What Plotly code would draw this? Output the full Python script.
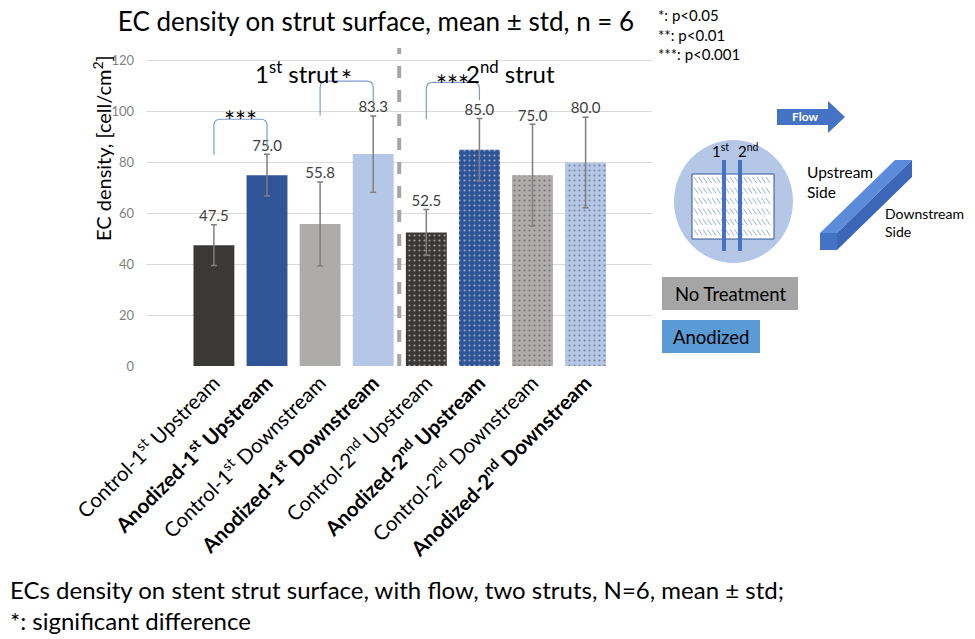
import plotly.graph_objects as go

# data
categories = [
    "Control-1<sup>st</sup> Upstream",
    "<b>Anodized-1<sup>st</sup> Upstream</b>",
    "Control-1<sup>st</sup> Downstream",
    "<b>Anodized-1<sup>st</sup> Downstream</b>",
    "Control-2<sup>nd</sup> Upstream",
    "<b>Anodized-2<sup>nd</sup> Upstream</b>",
    "Control-2<sup>nd</sup> Downstream",
    "<b>Anodized-2<sup>nd</sup> Downstream</b>",
]
means = [47.5, 75.0, 55.8, 83.3, 52.5, 85.0, 75.0, 80.0]
stds = [8.0, 8.2, 16.5, 15.0, 9.0, 12.3, 20.0, 17.8]
bar_colors = ["#3b3838", "#2f5597", "#aeabab", "#b4c7e7"] * 2
bar_patterns = ["", "", "", "", ".", ".", ".", "."]
y_ticks = [0, 20, 40, 60, 80, 100, 120]

# significance brackets (category index pairs)
sig_left = [0, 2, 4]
sig_right = [1, 3, 5]
sig_top = [97.0, 112.0, 111.5]
sig_left_low = [83.0, 98.5, 97.0]
sig_right_low = [86.0, 103.5, 104.5]
sig_text = ["***", "*", "***"]
sig_text_y = [96.5, 112.5, 110.5]

FONT = "Lato, 'Open Sans', sans-serif"

# the page puts the figure 8px in from the top-left corner
OFF = 8
# plot area in page pixels: x 147..652, y 48..366
L, R, T, B = 147 - OFF, 975 - 652 + OFF, 48 - OFF, 639 - 366 + OFF
W = 975 - L - R
H = 639 - T - B


def px(x):
    return (x - OFF - L) / W


def py(y):
    return (639 - B - (y - OFF)) / H


x_pos = list(range(len(categories)))

fig = go.Figure()

fig.add_trace(go.Bar(
    x=x_pos,
    y=means,
    width=0.77,
    marker=dict(
        color=bar_colors,
        line=dict(width=0),
        pattern=dict(shape=bar_patterns, fgcolor="white",
                     size=5, solidity=0.15, fillmode="overlay"),
    ),
    error_y=dict(type="data", array=stds, color="#7f7f7f", thickness=1.5, width=3),
    showlegend=False,
    hoverinfo="skip",
))

# value labels above the error bars
fig.add_trace(go.Scatter(
    x=x_pos,
    y=[m + s for m, s in zip(means, stds)],
    text=[f"{m:.1f}" for m in means],
    mode="text",
    textposition="top center",
    textfont=dict(size=15, color="#404040", family=FONT),
    showlegend=False,
    hoverinfo="skip",
    cliponaxis=False,
))

shapes = []

# divider between struts
shapes.append(dict(type="line", xref="x", yref="y", x0=3.49, x1=3.49, y0=0, y1=125,
                   line=dict(color="#a6a6a6", width=4, dash="dash")))

# brackets
for i, j, top, yl, yr in zip(sig_left, sig_right, sig_top, sig_left_low, sig_right_low):
    r = 2.5
    d = 0.12
    path = (f"M {i},{yl} L {i},{top - r} Q {i},{top} {i + d},{top} "
            f"L {j - d},{top} Q {j},{top} {j},{top - r} L {j},{yr}")
    shapes.append(dict(type="path", xref="x", yref="y", path=path,
                       line=dict(color="#7f9cc9", width=1.2)))


def ppath(points, close=True):
    s = "M " + " L ".join(f"{px(x)},{py(y)}" for x, y in points)
    return s + (" Z" if close else "")


def pshape(points, fill):
    return dict(type="path", xref="paper", yref="paper", path=ppath(points),
                fillcolor=fill, line=dict(width=0))


# stent diagram
shapes.append(dict(type="circle", xref="paper", yref="paper",
                   x0=px(674), x1=px(793), y0=py(263), y1=py(140),
                   fillcolor="#b4c7e7", line=dict(width=0)))
shapes.append(dict(type="rect", xref="paper", yref="paper",
                   x0=px(692), x1=px(774), y0=py(239), y1=py(174),
                   fillcolor="white", line=dict(color="#2f5597", width=1)))
hatch = []
for k in range(6):
    y0 = 177 + k * 10.5
    x = 694
    while x + 4 < 773:
        hatch.append(f"M {px(x)},{py(y0)} L {px(x + 4)},{py(y0 + 6)}")
        x += 4.5
shapes.append(dict(type="path", xref="paper", yref="paper", path=" ".join(hatch),
                   line=dict(color="#8a9cc0", width=0.8)))
for sx in (722, 738):
    shapes.append(dict(type="rect", xref="paper", yref="paper",
                       x0=px(sx), x1=px(sx + 4), y0=py(251), y1=py(160),
                       fillcolor="#4472c4", line=dict(width=0)))

# flow arrow
shapes.append(pshape([(777, 109), (828, 109), (828, 101), (845, 117),
                      (828, 133), (828, 125), (777, 125)], "#4472c4"))

# 3d strut
shapes.append(pshape([(820, 233), (895, 160), (912, 160), (837, 233)], "#5b8bdb"))
shapes.append(pshape([(837, 233), (912, 160), (912, 177), (837, 250)], "#3c67b8"))
shapes.append(pshape([(820, 233), (837, 233), (837, 250), (820, 250)], "#4472c4"))

# treatment boxes
shapes.append(dict(type="rect", xref="paper", yref="paper",
                   x0=px(662), x1=px(798), y0=py(310), y1=py(277),
                   fillcolor="#a5a5a5", line=dict(width=0)))
shapes.append(dict(type="rect", xref="paper", yref="paper",
                   x0=px(662), x1=px(760), y0=py(353), y1=py(320),
                   fillcolor="#5b9bd5", line=dict(width=0)))

annotations = []


def note(text, x, y, size, color="#000000", xanchor="center", yanchor="middle",
         xref="paper", yref="paper", angle=0, align="center"):
    annotations.append(dict(text=text, x=x, y=y, xref=xref, yref=yref,
                            xanchor=xanchor, yanchor=yanchor, showarrow=False,
                            textangle=angle, align=align,
                            font=dict(size=size, color=color, family=FONT)))


for i, j, t, ty in zip(sig_left, sig_right, sig_text, sig_text_y):
    note(t, (i + j) / 2, ty, 26, xref="x", yref="y")

note("1<sup>st</sup> strut", 1.56, 115.6, 24, xref="x", yref="y")
note("2<sup>nd</sup> strut", 5.58, 115.6, 24, xref="x", yref="y")

note("EC density, [cell/cm<sup>2</sup>]", px(102), py(148), 20, angle=-90)

note("*: p<0.05<br>**: p<0.01<br>***: p<0.001", px(656), py(34), 15,
     xanchor="left", align="left")

note("ECs density on stent strut surface, with flow, two struts, N=6, mean ± std;"
     "<br>*: significant difference", px(8), py(605), 24, xanchor="left", align="left")

note("<b>Flow</b>", px(805), py(117), 12, color="white")
note("1<sup>st</sup>", px(720), py(150), 15)
note("2<sup>nd</sup>", px(748), py(150), 15)
note("Upstream<br>Side", px(805), py(182), 15.5, xanchor="left", align="left")
note("Downstream<br>Side", px(883), py(222), 14, xanchor="left", align="left")
note("No Treatment", px(730), py(294), 18.5)
note("Anodized", px(711), py(337), 18.5)

fig.update_layout(
    width=975,
    height=639,
    margin=dict(l=L, r=R, t=T, b=B, autoexpand=False),
    paper_bgcolor="white",
    plot_bgcolor="white",
    font=dict(family=FONT, color="#000000"),
    title=dict(text="EC density on strut surface, mean ± std, n = 6",
               x=(376 - OFF) / 975, xanchor="center", y=1 - (22 - OFF) / 639,
               yanchor="middle",
               font=dict(size=26, family=FONT, color="#000000")),
    shapes=shapes,
    annotations=annotations,
    xaxis=dict(
        range=[-1.26, 8.25],
        tickvals=x_pos,
        ticktext=categories,
        tickangle=-45,
        tickfont=dict(size=20.5, family=FONT, color="#000000"),
        showgrid=False,
        zeroline=False,
        showline=False,
        ticks="",
        fixedrange=True,
    ),
    yaxis=dict(
        range=[0, 125],
        tickvals=y_ticks,
        tickfont=dict(size=13, family=FONT, color="#7f7f7f"),
        gridcolor="#d9d9d9",
        gridwidth=1,
        zeroline=False,
        showline=False,
        ticks="",
        ticklabelstandoff=12,
    ),
)

fig.write_html("out.html")
